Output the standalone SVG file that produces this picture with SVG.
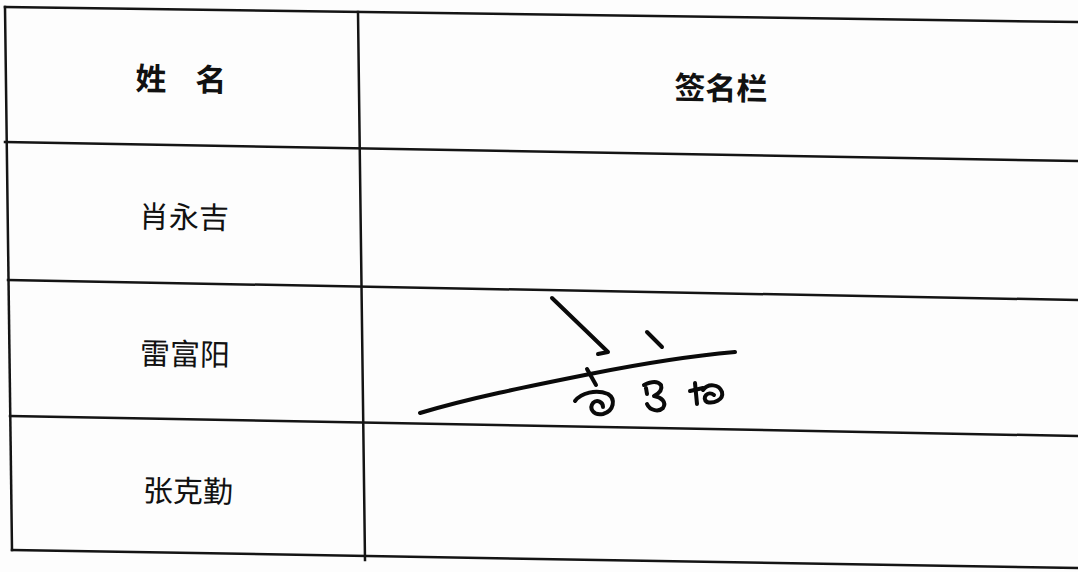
<svg xmlns="http://www.w3.org/2000/svg" width="1078" height="572" viewBox="0 0 1078 572">
<style>
.ln{stroke:#141414;stroke-width:2.5;fill:none;stroke-linecap:square}
.hd{font-family:"Noto Sans CJK SC","Noto Sans",sans-serif;font-size:31px;font-weight:bold;fill:#111;text-anchor:middle;dominant-baseline:central}
.nm{font-family:"Noto Sans CJK SC","Noto Sans",sans-serif;font-size:30px;font-weight:normal;fill:#111;text-anchor:middle;dominant-baseline:central}
.ink{stroke:#0a0a0a;stroke-width:4;fill:none;stroke-linecap:round;stroke-linejoin:round}
</style>
<rect width="1078" height="572" fill="#fdfdfd"/>
<g id="grid">
<line class="ln" x1="5" y1="7" x2="1078" y2="22"/>
<line class="ln" x1="5" y1="142" x2="1078" y2="161"/>
<line class="ln" x1="8" y1="280" x2="1078" y2="300"/>
<line class="ln" x1="10" y1="416" x2="1078" y2="436"/>
<line class="ln" x1="12" y1="550" x2="1078" y2="568"/>
<line class="ln" x1="5" y1="7" x2="12" y2="550"/>
<line class="ln" x1="358" y1="12" x2="365" y2="560"/>
</g>
<g id="header-name"><text class="hd" x="181" y="77" word-spacing="22" transform="rotate(1 181 77)">姓 名</text></g>
<g id="header-sign"><text class="hd" x="721" y="86" transform="rotate(1 721 86)">签名栏</text></g>
<g id="row1"><text class="nm" x="184" y="215" transform="rotate(1 184 215)">肖永吉</text></g>
<g id="row2"><text class="nm" x="185" y="352" transform="rotate(1 185 352)">雷富阳</text></g>
<g id="row3"><text class="nm" x="188" y="489" transform="rotate(1 188 489)">张克勤</text></g>
<g id="signature">
<path class="ink" d="M420,413 C470,398 525,387 590,374 C640,364 690,356 735,352"/>
<path class="ink" d="M552,298 L608,352 L598,354"/>
<path class="ink" d="M647,332 L662,347"/>
<path class="ink" d="M587,369 L596,385"/>
<path class="ink" d="M575,401 C581,393 596,389 608,394 C616,399 614,411 603,414 C593,416 589,408 593,403 C597,399 603,402 603,407"/>
<path class="ink" d="M644,385 C650,382 657,380 661,385 C663,391 658,394 654,396 C661,397 667,402 663,408 C659,412 650,411 647,404"/>
<path class="ink" d="M646,388 L647,394"/>
<path class="ink" d="M695,383 L697,404"/>
<path class="ink" d="M690,391 L703,388"/>
<path class="ink" d="M703,390 C708,383 719,384 722,392 C724,400 713,404 707,402 C701,398 708,390 714,395"/>
</g>
</svg>
